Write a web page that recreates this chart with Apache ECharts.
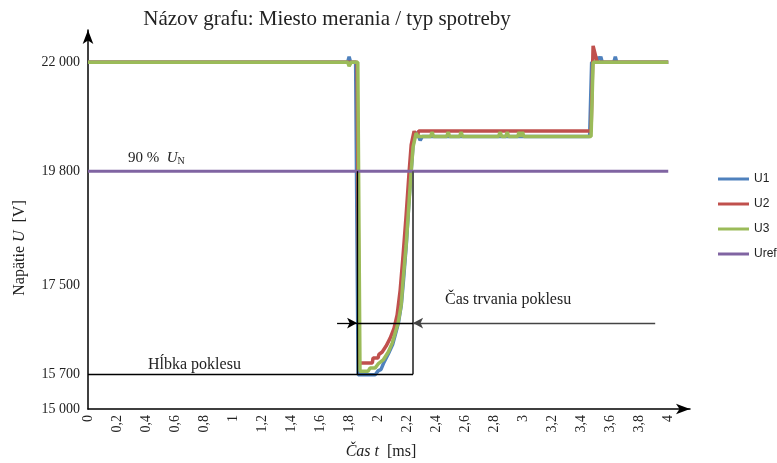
<!DOCTYPE html>
<html>
<head>
<meta charset="utf-8">
<script src="https://cdn.jsdelivr.net/npm/echarts@6/dist/echarts.min.js"></script>
<style>
  html, body { margin: 0; padding: 0; background: #fff; }
  #chart { width: 777px; height: 463px; }
</style>
</head>
<body>
<div id="chart"></div>
<script>
// tick labels
var xTicks = [0, 0.2, 0.4, 0.6, 0.8, 1, 1.2, 1.4, 1.6, 1.8, 2, 2.2, 2.4, 2.6, 2.8, 3, 3.2, 3.4, 3.6, 3.8, 4];
var yTicks = [15000, 15700, 17500, 19800, 22000];

// measured voltages [t (ms), U (V)]
var u1 = [[0, 22000], [1.79, 22000], [1.80, 22110], [1.81, 22000], [1.845, 22000], [1.862, 15690], [1.98, 15690],
  [2.0, 15770], [2.02, 15800], [2.04, 15940], [2.07, 16110], [2.1, 16300], [2.12, 16520], [2.14, 16740], [2.16, 17100],
  [2.175, 17600], [2.195, 18350], [2.215, 19300], [2.228, 19800], [2.24, 20300], [2.255, 20570], [2.27, 20570],
  [2.29, 20420], [2.305, 20500], [3.458, 20500], [3.472, 22000], [3.51, 22000], [3.515, 22110], [3.525, 22050],
  [3.535, 22110], [3.545, 22000], [3.625, 22000], [3.635, 22110], [3.645, 22000], [4, 22000]];

var u2 = [[0, 22000], [1.855, 22000], [1.87, 15930], [1.96, 15930], [1.965, 16030], [2.0, 16030], [2.005, 16100],
  [2.028, 16150], [2.055, 16270], [2.083, 16430], [2.11, 16630], [2.131, 16900], [2.152, 17400], [2.172, 18100],
  [2.193, 18910], [2.214, 19800], [2.228, 20330], [2.248, 20610], [2.265, 20480], [2.28, 20610], [3.468, 20610],
  [3.482, 22330], [3.492, 22330], [3.51, 22000], [4, 22000]];

var u3 = [[0, 22000], [1.79, 22000], [1.80, 21920], [1.815, 22000], [1.86, 22000], [1.875, 15760], [1.93, 15760],
  [1.945, 15830], [1.98, 15830], [2.0, 15910], [2.035, 15990], [2.07, 16150], [2.097, 16330], [2.117, 16530],
  [2.138, 16740], [2.159, 17100], [2.172, 17600], [2.193, 18300], [2.214, 19210], [2.228, 19800], [2.241, 20290],
  [2.262, 20570], [2.275, 20500], [2.362, 20500], [2.372, 20590], [2.382, 20500], [2.473, 20500], [2.483, 20590],
  [2.493, 20500], [2.562, 20500], [2.572, 20590], [2.582, 20500], [2.83, 20500], [2.841, 20590], [2.852, 20500],
  [2.88, 20500], [2.89, 20590], [2.9, 20500], [2.962, 20500], [2.972, 20590], [2.985, 20500], [2.995, 20590],
  [3.005, 20500], [3.468, 20500], [3.482, 22000], [4, 22000]];

var uref = [[0, 19800], [4, 19800]];

// annotation lines (data coords)
var dipStart = 1.855, dipEnd = 2.241, dipDepth = 15700, arrowLevel = 16735;

var serif = '"Liberation Serif", "DejaVu Serif", serif';

var chart = echarts.init(document.getElementById('chart'));

function lineSeries(name, data, color) {
    return {
        name: name,
        type: 'line',
        data: data,
        symbol: 'none',
        color: color,
        lineStyle: { width: 3.5, color: color },
        animation: false
    };
}

var refSeries = lineSeries('Uref', uref, '#8064A2');
refSeries.lineStyle.width = 3;
refSeries.markLine = {
    silent: true,
    symbol: 'none',
    label: { show: false },
    animation: false,
    lineStyle: { type: 'solid', color: '#000', width: 1.3 },
    data: [
        [{ coord: [dipStart, dipDepth] }, { coord: [dipStart, 19800] }],
        [{ coord: [dipEnd, dipDepth], lineStyle: { color: '#555', width: 2 } }, { coord: [dipEnd, 19800] }],
        [{ coord: [0, dipDepth] }, { coord: [dipEnd, dipDepth] }],
        [{ coord: [dipStart, arrowLevel] }, { coord: [dipEnd, arrowLevel] }],
        [{ coord: [1.717, arrowLevel], symbol: 'none' }, { coord: [dipStart, arrowLevel], symbol: 'arrow', symbolSize: [8, 10] }],
        [{ coord: [3.91, arrowLevel], symbol: 'none', lineStyle: { color: '#444', width: 1.3 } }, { coord: [dipEnd, arrowLevel], symbol: 'arrow', symbolSize: [8, 10] }]
    ]
};

var option = {
    backgroundColor: '#fff',
    animation: false,
    grid: { left: 88, right: 87, top: 30, bottom: 54, containLabel: false },
    legend: {
        orient: 'vertical',
        left: 713,
        top: 168,
        itemWidth: 31,
        itemHeight: 3,
        itemGap: 13,
        icon: 'rect',
        textStyle: { fontFamily: '"Liberation Sans", sans-serif', fontSize: 12, color: '#222' },
        data: ['U1', 'U2', 'U3', 'Uref']
    },
    xAxis: {
        type: 'value',
        min: 0,
        max: 4.15,
        axisLine: { show: true, symbol: ['none', 'arrow'], symbolSize: [8, 14], lineStyle: { color: '#000', width: 1.5 } },
        axisTick: { show: false },
        splitLine: { show: false },
        axisLabel: {
            customValues: xTicks,
            rotate: 90,
            margin: 6,
            color: '#222',
            fontFamily: serif,
            fontSize: 14,
            formatter: function (v) { return String(v).replace('.', ','); }
        }
    },
    yAxis: {
        type: 'value',
        min: 15000,
        max: 22650,
        axisLine: { show: true, symbol: ['none', 'arrow'], symbolSize: [8, 14], lineStyle: { color: '#000', width: 1.5 } },
        axisTick: { show: false },
        splitLine: { show: false },
        axisLabel: {
            customValues: yTicks,
            margin: 8,
            color: '#222',
            fontFamily: serif,
            fontSize: 14,
            formatter: function (v) { return String(v).replace(/(\d\d)(\d\d\d)$/, '$1 $2'); }
        }
    },
    graphic: [
        {
            type: 'text', x: 327, y: 19, silent: true,
            style: { text: 'Názov grafu: Miesto merania / typ spotreby', align: 'center', verticalAlign: 'middle', font: '21px ' + serif, fill: '#222' }
        },
        {
            type: 'text', x: 20, y: 248, rotation: Math.PI / 2, silent: true,
            style: {
                text: 'Napätie {i|U}  [V]', align: 'center', verticalAlign: 'middle',
                font: '16px ' + serif, fill: '#222',
                rich: { i: { fontStyle: 'italic', fontFamily: serif, fontSize: 16 } }
            }
        },
        {
            type: 'text', x: 381, y: 452, silent: true,
            style: {
                text: '{i|Čas t}  [ms]', align: 'center', verticalAlign: 'middle',
                font: '16px ' + serif, fill: '#222',
                rich: { i: { fontStyle: 'italic', fontFamily: serif, fontSize: 16 } }
            }
        },
        {
            type: 'text', x: 128, y: 158, silent: true,
            style: {
                text: '90 %  {i|U}{s|N}', verticalAlign: 'middle',
                font: '15px ' + serif, fill: '#222',
                rich: {
                    i: { fontStyle: 'italic', fontFamily: serif, fontSize: 15 },
                    s: { fontFamily: serif, fontSize: 10, padding: [7, 0, 0, 0] }
                }
            }
        },
        {
            type: 'text', x: 148, y: 365, silent: true,
            style: { text: 'Hĺbka poklesu', verticalAlign: 'middle', font: '16px ' + serif, fill: '#222' }
        },
        {
            type: 'text', x: 445, y: 300, silent: true,
            style: { text: 'Čas trvania poklesu', verticalAlign: 'middle', font: '16px ' + serif, fill: '#222' }
        }
    ],
    series: [
        lineSeries('U1', u1, '#4F81BD'),
        lineSeries('U2', u2, '#C0504D'),
        lineSeries('U3', u3, '#9BBB59'),
        refSeries
    ]
};

chart.setOption(option);
</script>
</body>
</html>
